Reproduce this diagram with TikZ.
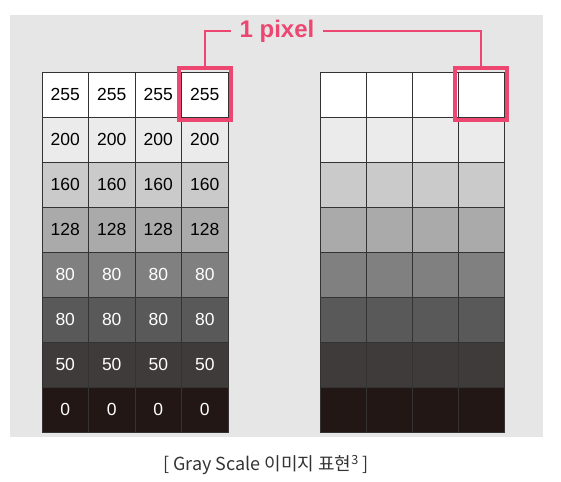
\documentclass[tikz,border=0pt]{standalone}
\usepackage{fontspec}
\setmainfont{Liberation Sans}
\newfontfamily\krfont{Noto Sans CJK KR}
\usetikzlibrary{positioning}
\begin{document}
\begin{tikzpicture}[x=1pt,y=-1pt]
\useasboundingbox (0,0) rectangle (561,481);
\pgfmathsetmacro\cellw{46.5}
\pgfmathsetmacro\cellh{45}
\definecolor{panelgray}{HTML}{E6E6E6}
\definecolor{pixelpink}{HTML}{EC4671}
\definecolor{gridline}{HTML}{333333}
\definecolor{captiongray}{HTML}{333333}
\tikzset{cell/.style = {draw = gridline, line width = 0.9pt, minimum width = \cellw pt, minimum height = \cellh pt, inner sep = 0pt, font = \fontsize{17.5}{17.5}\selectfont}}
\fill[panelgray] (10,15) rectangle (543,437);
\foreach \v/\c/\txt [count=\r] in {255/FFFFFF/black, 200/EBEBEB/black, 160/C9CAC9/black, 128/A9AAA9/black, 80/808080/white, 80/5A5959/white, 50/3E3B3A/white, 0/221714/white} {
\definecolor{cellcolor}{HTML}{\c}
\foreach \k in {1,...,4} {
\node[cell, fill = cellcolor, text = \txt] (L-\r-\k) at (42+\cellw*\k-\cellw/2, 72+\cellh*\r-\cellh/2) {\v};
\node[cell, fill = cellcolor, minimum width = 46pt] (R-\r-\k) at (320+46*\k-23, 72+\cellh*\r-\cellh/2) {};
}
}
\node[draw = pixelpink, line width = 4pt, minimum width = 52pt, minimum height = 52pt] (lpix) at (L-1-4) {};
\node[draw = pixelpink, line width = 4pt, minimum width = 52pt, minimum height = 52pt] (rpix) at (R-1-4) {};
\node[text = pixelpink, font = \bfseries\fontsize{24}{24}\selectfont, inner sep = 8pt] (pixlabel) at (277,31) {1 pixel};
\draw[pixelpink, line width = 2.5pt] (lpix.north) |- (pixlabel.west);
\draw[pixelpink, line width = 2.5pt] (pixlabel.east) -| (rpix.north);
\node[font = \krfont\fontsize{18}{18}\selectfont, text = captiongray] (caption) at (266,465) {[ Gray Scale 이미지 표현\textsuperscript{3} ]};
\end{tikzpicture}
\end{document}
